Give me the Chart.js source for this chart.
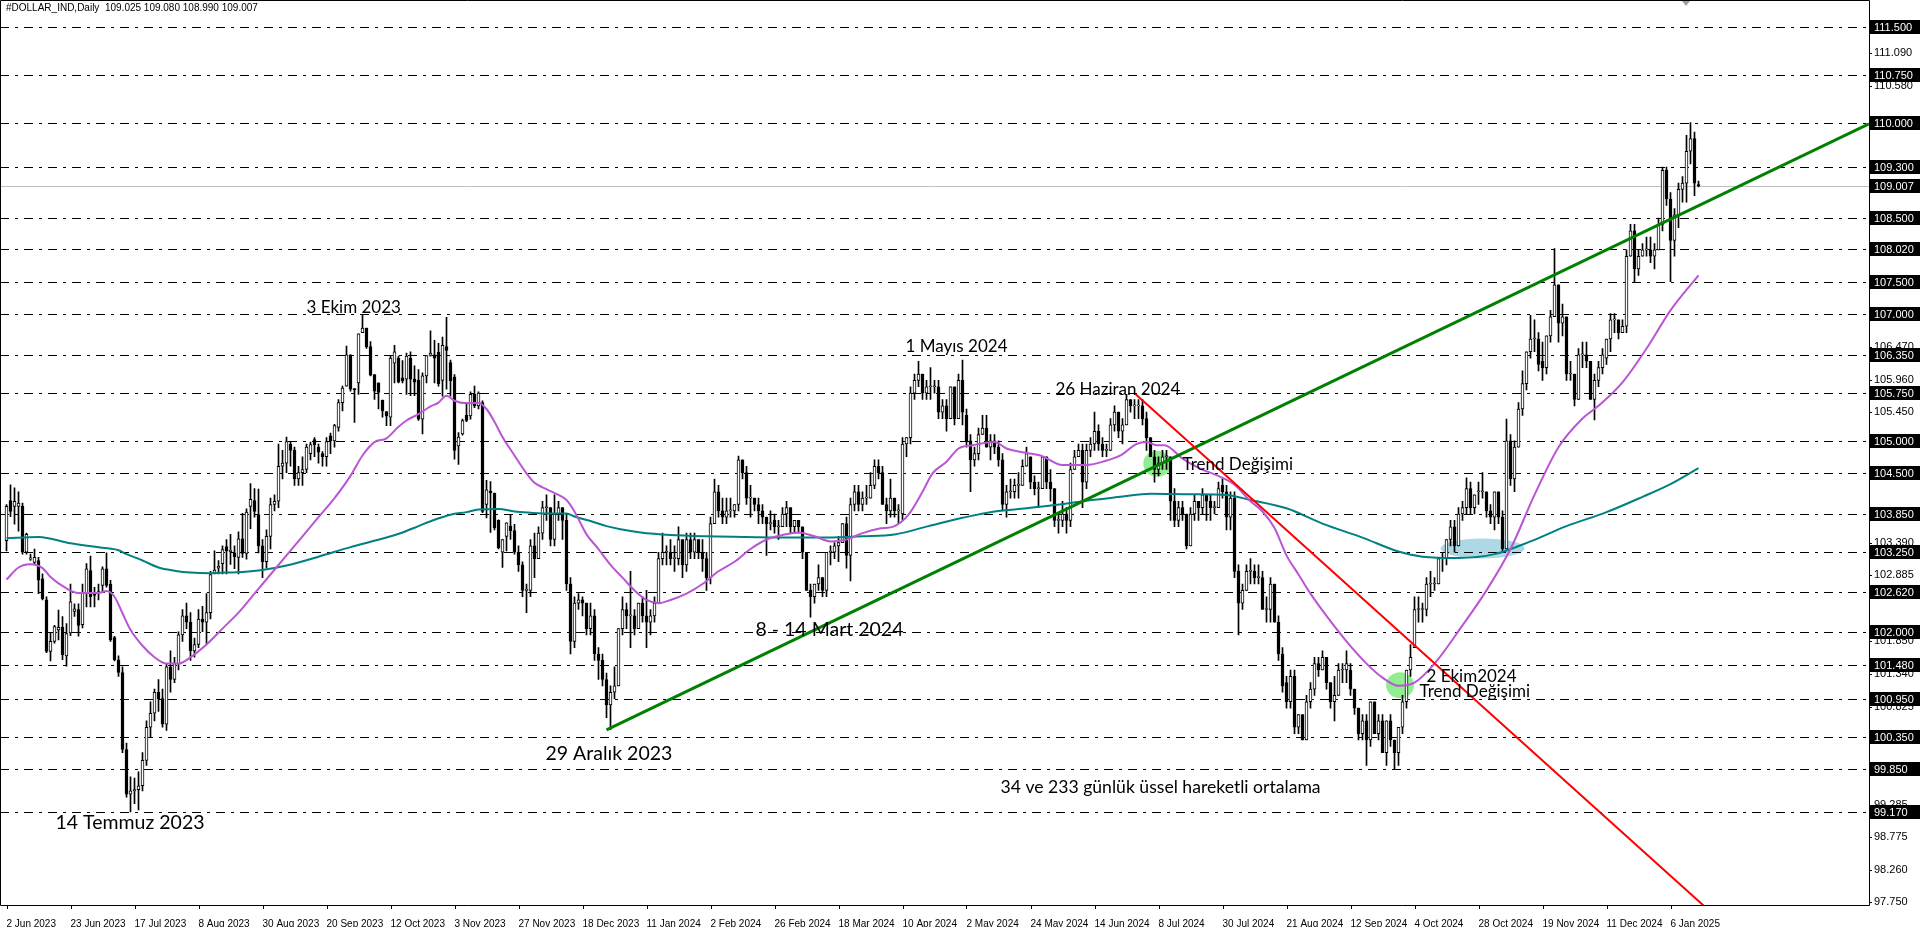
<!DOCTYPE html>
<html><head><meta charset="utf-8">
<script src="https://cdn.jsdelivr.net/npm/chart.js@4.4.1/dist/chart.umd.min.js"></script>
<style>html,body{margin:0;padding:0;background:#fff;overflow:hidden}#wrap{width:1920px;height:927px;position:relative}</style>
</head><body><div id="wrap"><canvas id="c" width="1920" height="927"></canvas></div>
<script>
const opens=[103.43,104.06,103.97,103.97,103.97,103.25,103.14,103.09,103.12,102.83,102.50,101.69,101.85,102.03,102.07,101.62,101.98,102.32,102.35,102.11,102.60,102.96,102.60,102.61,102.73,102.99,102.75,101.91,101.56,101.36,100.15,99.45,99.50,99.52,99.58,99.98,100.50,100.72,101.05,100.95,100.55,101.45,101.25,101.50,101.95,102.25,102.15,101.70,101.80,102.20,102.15,102.30,102.92,103.00,103.07,103.34,103.26,103.24,103.17,103.46,103.23,103.97,104.06,103.84,103.35,103.10,103.50,104.00,104.05,104.60,104.65,104.95,104.85,104.40,104.50,104.55,104.80,105.02,104.90,104.80,104.75,105.08,105.00,105.21,105.60,105.86,106.35,105.82,105.91,106.70,106.77,106.48,106.04,105.91,105.64,105.46,105.37,106.22,106.30,105.99,105.97,106.30,105.97,105.95,105.34,106.02,106.34,106.35,106.39,105.95,106.48,106.23,106.00,104.92,105.11,105.40,105.39,105.73,105.55,105.60,104.00,104.21,104.18,103.75,103.25,103.50,103.66,103.59,103.25,103.05,102.65,102.65,103.35,103.15,103.55,103.95,103.95,103.45,103.85,103.95,103.75,102.75,101.85,102.45,102.50,102.45,102.05,102.25,101.65,101.55,101.25,100.85,101.05,101.15,102.05,102.35,102.25,102.25,102.05,102.45,102.25,102.15,102.25,102.45,103.15,103.25,103.25,103.15,103.15,103.45,103.05,103.45,103.25,103.45,103.25,103.15,102.85,103.70,104.20,103.90,103.80,103.90,103.90,104.00,104.70,104.50,104.10,104.10,104.00,103.90,103.80,103.70,103.75,103.65,103.65,103.85,103.95,103.65,103.75,103.65,103.25,102.65,102.55,102.75,102.85,102.65,103.25,103.25,103.35,103.40,103.70,103.20,104.00,104.20,104.00,104.10,104.10,104.30,104.60,104.50,104.00,103.90,104.10,103.90,103.85,104.95,105.05,105.75,105.95,106.05,105.75,105.85,105.85,105.85,105.45,105.55,105.35,105.85,105.35,105.95,105.40,105.00,104.70,104.80,105.10,105.20,104.90,105.00,104.90,104.70,104.00,104.20,104.20,104.30,104.30,104.60,104.75,104.35,104.25,104.25,104.75,104.35,104.25,103.75,103.75,103.85,103.75,104.55,104.75,104.85,104.35,104.85,104.95,105.15,104.95,104.85,104.85,105.25,105.45,105.15,105.25,105.65,105.55,105.55,105.55,105.35,105.05,104.75,104.55,104.65,104.75,104.75,104.05,103.75,103.95,103.85,103.35,103.85,104.05,103.95,104.15,104.05,103.95,103.95,104.30,104.20,103.80,104.10,102.95,102.45,102.65,102.95,102.95,102.85,102.85,102.35,102.35,102.75,102.15,101.65,101.20,100.90,101.30,100.50,100.70,100.30,100.90,101.10,101.50,101.40,101.60,101.20,100.90,101.00,101.40,101.40,101.40,101.10,100.80,100.40,100.60,100.30,100.90,100.40,100.60,100.10,100.60,100.30,100.10,100.50,100.90,101.40,101.75,102.35,102.35,102.35,102.75,102.75,102.75,103.15,103.15,103.45,103.65,103.35,103.85,103.95,104.25,103.95,104.20,104.20,104.20,103.90,103.80,104.20,103.80,103.30,105.00,104.40,104.90,105.50,105.90,106.40,106.60,106.60,106.25,106.15,106.65,106.95,107.45,106.85,106.95,106.05,106.05,105.65,106.35,106.35,106.25,105.65,105.95,106.15,106.30,106.60,106.90,106.90,106.70,106.80,107.90,108.30,107.70,107.90,108.00,108.00,107.90,108.00,108.40,109.25,108.80,108.15,108.55,108.95,109.05,109.55,109.75,109.025];
const highs=[104.00,104.31,104.26,104.20,104.02,103.55,103.22,103.30,103.17,102.91,102.55,101.98,102.10,102.34,102.24,102.13,102.75,102.44,102.44,102.75,103.07,103.19,102.70,102.75,103.02,103.24,102.81,101.93,101.62,101.45,100.25,99.72,99.70,99.80,100.10,100.60,100.90,101.10,101.25,101.10,101.50,101.70,101.60,102.00,102.35,102.45,102.30,101.90,102.35,102.40,102.60,102.95,103.27,103.12,103.35,103.45,103.53,103.35,103.57,103.86,103.93,104.33,104.25,104.24,103.45,103.60,104.10,104.15,104.95,104.85,105.06,104.98,104.90,104.60,104.75,104.95,104.98,105.05,104.95,104.83,105.05,105.12,105.26,105.65,105.86,106.49,106.35,105.82,106.68,106.97,106.77,106.56,106.04,105.91,105.64,105.46,106.33,106.50,106.33,106.26,106.38,106.40,106.18,106.12,106.07,106.34,106.73,106.58,106.53,106.63,106.94,106.27,106.04,105.13,105.34,105.60,105.77,105.86,105.77,105.63,104.38,104.36,104.18,103.76,103.45,103.71,103.83,103.69,103.35,103.10,102.75,103.45,103.55,103.65,104.05,104.15,103.95,104.15,104.05,103.95,103.85,102.85,102.55,102.60,102.55,102.45,102.45,102.35,101.75,101.65,101.35,101.15,101.45,102.05,102.55,102.45,102.95,102.35,102.45,102.55,102.65,102.35,102.55,103.25,103.55,103.35,103.45,103.35,103.65,103.45,103.55,103.55,103.55,103.45,103.45,103.25,103.80,104.40,104.30,104.10,104.10,104.10,104.00,104.76,104.70,104.60,104.30,104.10,104.10,104.00,103.80,103.90,103.85,103.75,103.95,104.05,103.95,103.75,103.75,103.65,103.25,102.75,102.75,103.05,102.85,103.25,103.35,103.40,103.50,103.70,103.80,104.10,104.30,104.30,104.20,104.30,104.50,104.70,104.70,104.60,104.10,104.40,104.10,104.00,105.05,105.05,105.85,106.05,106.25,106.05,105.95,106.15,105.95,105.95,105.65,105.65,105.85,105.85,106.05,106.27,105.50,105.10,104.90,105.20,105.40,105.40,105.10,105.10,105.00,104.80,104.30,104.40,104.40,104.50,104.70,104.90,104.75,104.45,104.35,104.75,104.75,104.55,104.25,103.85,104.05,103.95,104.65,104.85,104.95,104.95,104.95,105.05,105.45,105.25,105.05,104.95,105.35,105.55,105.45,105.35,105.73,105.65,105.65,105.65,105.65,105.45,105.05,104.85,104.75,104.85,104.85,104.75,104.25,104.05,104.05,103.85,103.95,104.15,104.05,104.25,104.15,104.15,104.05,104.35,104.40,104.30,104.20,104.20,103.05,102.75,103.05,103.15,103.05,103.05,102.95,102.55,102.85,102.75,102.25,101.75,101.30,101.40,101.40,100.70,100.70,101.00,101.20,101.60,101.60,101.70,101.60,101.20,101.30,101.50,101.50,101.70,101.50,101.10,100.80,100.70,100.70,100.90,100.90,100.70,100.70,100.60,100.70,100.30,100.50,101.00,101.40,101.80,102.55,102.55,102.45,102.85,102.95,102.85,103.15,103.25,103.45,103.75,103.75,103.95,104.05,104.42,104.35,104.15,104.35,104.50,104.20,104.00,104.20,104.20,103.90,105.34,105.10,105.00,105.60,106.10,106.40,106.97,106.90,106.70,106.55,106.65,107.05,108.02,107.45,107.15,106.95,106.25,106.05,106.45,106.55,106.55,106.25,106.05,106.25,106.45,106.60,107.00,107.00,106.90,106.90,108.00,108.40,108.40,108.00,108.10,108.20,108.20,108.10,108.50,109.30,109.30,108.90,108.65,109.05,109.15,109.80,110.00,109.85,109.08];
const lows=[103.27,103.81,103.69,103.58,103.22,103.22,103.12,103.06,102.60,102.50,101.67,101.54,101.82,101.87,101.56,101.46,101.94,102.24,101.93,102.06,102.39,102.39,102.39,102.50,102.62,102.70,101.85,101.54,101.30,100.10,99.40,99.17,99.30,99.20,99.50,99.90,100.35,100.60,100.75,100.50,100.45,101.05,101.20,101.40,101.85,102.05,101.55,101.60,101.75,102.00,101.80,102.20,102.91,102.91,102.91,102.91,103.06,102.99,102.91,103.17,103.14,103.62,103.80,103.24,102.85,103.00,103.30,103.90,103.95,104.40,104.50,104.60,104.30,104.30,104.30,104.50,104.70,104.75,104.65,104.60,104.60,104.80,104.90,105.15,105.47,105.86,105.78,105.29,105.73,106.70,106.45,106.02,105.65,105.50,105.37,105.24,105.24,105.91,105.91,105.91,105.73,105.71,105.71,105.32,105.11,105.91,106.33,105.91,105.86,105.70,105.81,105.70,104.71,104.63,105.09,105.30,105.34,105.52,105.50,103.87,103.79,103.56,103.60,103.30,103.01,103.27,103.45,103.22,102.95,102.55,102.30,102.55,102.85,103.15,103.45,103.75,103.35,103.35,103.75,103.45,102.65,101.65,101.75,102.35,102.25,101.95,101.95,101.55,101.25,101.15,100.65,100.46,100.95,101.15,101.95,102.05,101.75,101.95,102.05,102.15,101.75,101.95,102.15,102.45,103.05,103.05,103.05,102.95,103.05,102.85,102.95,103.15,103.15,103.15,102.95,102.65,102.75,103.70,103.80,103.70,103.70,103.80,103.80,103.90,104.40,104.00,103.80,103.90,103.70,103.70,103.20,103.60,103.55,103.45,103.65,103.65,103.55,103.55,103.55,103.15,102.65,102.23,102.45,102.65,102.55,102.55,103.05,103.15,103.10,103.40,103.00,102.80,103.90,103.90,103.90,104.00,104.10,104.25,104.40,104.00,103.70,103.80,103.80,103.70,103.75,104.75,104.95,105.65,105.85,105.65,105.65,105.65,105.75,105.35,105.35,105.15,105.35,105.25,105.35,105.25,104.90,104.20,104.60,104.70,105.10,104.90,104.70,104.80,104.60,103.90,103.80,104.10,104.10,104.10,104.30,104.60,104.25,104.15,103.95,104.25,104.25,104.05,103.65,103.55,103.65,103.55,103.65,104.55,104.75,103.95,104.25,104.75,104.85,104.85,104.75,104.75,104.85,105.15,105.05,104.95,105.25,105.45,105.35,105.35,105.25,104.85,104.75,104.35,104.45,104.55,104.55,103.75,103.65,103.65,103.75,103.30,103.35,103.75,103.75,103.85,103.75,103.75,103.85,103.95,104.10,103.60,103.60,102.85,101.95,102.35,102.65,102.75,102.75,102.75,102.35,102.15,102.15,102.15,101.55,101.05,100.80,100.80,100.40,100.40,100.30,100.30,100.80,101.00,101.30,101.40,101.10,100.80,100.60,101.00,101.20,101.20,101.00,100.70,100.30,100.30,99.90,100.20,100.40,100.30,100.10,99.90,100.20,99.85,99.90,100.40,100.80,101.30,101.75,102.15,102.15,102.25,102.55,102.65,102.75,102.95,103.05,103.35,103.25,103.35,103.75,103.85,103.85,103.85,104.00,104.10,103.80,103.70,103.60,103.70,103.27,103.30,104.30,104.20,104.90,105.40,105.80,106.30,106.40,106.10,105.95,106.05,106.55,106.95,106.55,106.65,105.95,105.95,105.55,105.65,106.15,106.15,105.65,105.33,105.85,106.05,106.20,106.40,106.70,106.60,106.70,106.70,107.90,107.50,107.60,107.90,107.90,107.80,107.70,108.00,108.30,108.70,107.50,107.90,108.35,108.75,108.75,109.35,108.85,108.99];
const closes=[103.97,103.89,104.05,104.02,103.25,103.53,103.16,103.17,102.81,102.52,101.69,101.85,102.08,102.07,101.64,101.97,102.47,102.36,102.10,102.61,102.99,102.55,102.57,102.63,102.99,102.73,101.87,101.56,101.36,100.15,99.45,99.50,99.52,99.58,99.98,100.50,100.72,101.05,100.95,100.55,101.45,101.25,101.50,101.95,102.25,102.15,101.70,101.80,102.20,102.15,102.30,102.90,102.97,103.03,103.29,103.27,103.28,103.18,103.46,103.23,103.88,104.08,103.89,103.35,103.10,103.50,104.00,104.05,104.60,104.65,104.99,104.85,104.40,104.50,104.55,104.90,104.94,104.94,104.82,104.75,104.99,105.00,105.24,105.60,105.83,106.35,105.81,105.80,106.68,106.77,106.48,106.03,105.78,105.76,105.47,105.39,106.30,106.40,105.92,105.94,106.33,105.97,105.92,105.34,106.02,106.34,106.38,106.30,105.90,106.50,106.42,105.94,104.85,105.06,105.32,105.32,105.73,105.55,105.75,103.89,104.23,104.18,103.63,103.32,103.45,103.71,103.59,103.25,103.05,102.65,102.65,103.35,103.15,103.55,103.95,103.95,103.45,103.85,103.95,103.75,102.75,101.85,102.45,102.50,102.45,102.05,102.25,101.65,101.55,101.25,100.85,101.05,101.15,102.05,102.35,102.25,102.25,102.05,102.45,102.25,102.15,102.25,102.45,103.15,103.25,103.25,103.15,103.15,103.45,103.05,103.45,103.25,103.45,103.25,103.15,102.85,103.70,104.20,103.90,103.80,103.90,103.90,104.00,104.70,104.50,104.10,104.10,104.00,103.90,103.80,103.70,103.70,103.65,103.65,103.85,103.95,103.65,103.75,103.65,103.25,102.65,102.55,102.75,102.85,102.65,103.25,103.25,103.35,103.40,103.70,103.20,104.00,104.20,104.00,104.10,104.10,104.30,104.60,104.50,104.00,103.90,104.10,103.90,103.90,104.95,105.05,105.75,105.95,106.05,105.75,105.85,105.85,105.85,105.45,105.55,105.35,105.85,105.35,105.95,105.45,105.00,104.70,104.80,105.10,105.20,104.90,105.00,104.90,104.70,104.00,104.20,104.20,104.30,104.30,104.60,104.80,104.35,104.25,104.25,104.75,104.35,104.25,103.75,103.75,103.85,103.75,104.55,104.75,104.85,104.35,104.85,104.95,105.15,104.95,104.85,104.85,105.25,105.45,105.15,105.25,105.65,105.55,105.55,105.55,105.35,105.05,104.75,104.55,104.65,104.75,104.75,104.05,103.75,103.95,103.85,103.35,103.85,104.05,103.95,104.15,104.05,103.95,103.95,104.25,104.20,103.80,104.10,102.95,102.45,102.65,102.95,102.95,102.85,102.85,102.35,102.35,102.75,102.15,101.65,101.15,100.90,101.30,100.50,100.70,100.30,100.90,101.10,101.50,101.40,101.60,101.20,100.90,101.00,101.40,101.40,101.50,101.10,100.80,100.40,100.60,100.30,100.90,100.40,100.60,100.10,100.60,100.30,100.10,100.50,100.90,101.40,101.60,102.35,102.35,102.35,102.75,102.75,102.75,103.15,103.15,103.45,103.65,103.35,103.85,103.95,104.25,103.95,104.15,104.20,104.20,103.90,103.80,104.20,103.80,103.30,105.00,104.40,104.90,105.50,105.90,106.40,106.60,106.60,106.20,106.15,106.65,106.95,107.45,106.85,106.95,106.05,106.05,105.65,106.35,106.35,106.25,105.65,105.95,106.15,106.35,106.60,106.90,106.90,106.70,106.80,107.90,108.30,107.70,107.90,108.00,108.00,107.90,108.00,108.40,109.25,108.80,108.15,108.55,108.95,109.05,109.55,109.75,109.05,109.007];

const xTickLabels=["2 Jun 2023","23 Jun 2023","17 Jul 2023","8 Aug 2023","30 Aug 2023","20 Sep 2023","12 Oct 2023","3 Nov 2023","27 Nov 2023","18 Dec 2023","11 Jan 2024","2 Feb 2024","26 Feb 2024","18 Mar 2024","10 Apr 2024","2 May 2024","24 May 2024","14 Jun 2024","8 Jul 2024","30 Jul 2024","21 Aug 2024","12 Sep 2024","4 Oct 2024","28 Oct 2024","19 Nov 2024","11 Dec 2024","6 Jan 2025"];
const xTickEvery=16;

const ema34Idx=[0,3,6,9,11,15,18,23,25,27,29,31,34,37,40,43,46,50,54,58,62,66,70,74,78,82,86,89,92,95,98,100,103,106,108,110,112,115,118,120,122,124,127,130,132,134,136,138,140,141.5,143,145,148,151,154,157,160,163,166,170,174,178,182,186,190,194,198,202,206,210,214,218,222,225.5,229,231.5,235,238,241.5,247,250,254,258.5,264,270,275,278.5,282.5,285,287.5,289.5,294,298.5,302.5,307,311,314,317,320,323,326,330,335,340,344,348,352,357,364,370,376,382,388,394,398,404,410,416,423];
const ema34Val=[102.82,103.01,103.06,103.00,102.86,102.68,102.61,102.61,102.64,102.55,102.29,102.03,101.78,101.60,101.50,101.50,101.60,101.80,102.05,102.30,102.60,102.90,103.20,103.50,103.80,104.10,104.45,104.77,104.98,105.04,105.22,105.32,105.42,105.54,105.60,105.71,105.63,105.59,105.60,105.50,105.30,105.06,104.77,104.49,104.34,104.27,104.21,104.15,104.07,103.94,103.77,103.53,103.30,103.05,102.85,102.65,102.50,102.45,102.50,102.60,102.75,102.95,103.10,103.30,103.45,103.52,103.56,103.50,103.42,103.45,103.55,103.62,103.66,103.84,104.20,104.49,104.67,104.88,104.93,104.98,104.88,104.82,104.77,104.62,104.62,104.69,104.77,104.95,104.98,104.93,104.93,104.72,104.56,104.46,104.31,104.05,103.89,103.63,103.20,102.90,102.60,102.25,101.85,101.50,101.28,101.15,101.20,101.50,102.10,102.65,103.30,104.15,104.90,105.35,105.55,105.92,106.45,107.05,107.60];
const ema233Idx=[0,8,16,24,28,30,34,38,42,46,51,55,59,64,70,78,86,95,99,103,107,111,115,118,123,127,131,134,140,142,146,150,153.5,158.5,166,175,185,195,205,214,222,230.5,239,247,255,262,270,278.5,286,296,305,311,320,329,339,348,354,363,372,381,390,400,409,416,423];
const ema233Val=[103.47,103.49,103.39,103.32,103.28,103.22,103.12,103.01,102.96,102.93,102.92,102.93,102.94,102.97,103.04,103.18,103.33,103.48,103.56,103.66,103.76,103.84,103.88,103.92,103.93,103.89,103.87,103.86,103.86,103.81,103.74,103.66,103.61,103.56,103.52,103.50,103.49,103.48,103.48,103.50,103.53,103.66,103.79,103.89,103.94,103.99,104.06,104.12,104.17,104.16,104.15,104.07,103.94,103.70,103.48,103.26,103.18,103.16,103.22,103.42,103.66,103.88,104.12,104.32,104.57];

const hLevels=[111.5,110.75,110.0,109.3,108.5,108.02,107.5,107.0,106.35,105.75,105.0,104.5,103.85,103.25,102.62,102.0,101.48,100.95,100.35,99.85,99.17];
const currentPrice=109.007;
const yPlainTicks=[111.090,110.580,106.470,105.960,105.450,103.390,102.885,101.850,101.340,100.825,99.285,98.775,98.260,97.750];
const titleText="#DOLLAR_IND,Daily  109.025 109.080 108.990 109.007";
const greenTrend=[[150,100.46],[465.625,109.98]];
const redTrend=[[282.3,105.73],[426,97.6]];
const notes=[
 ["3 Ekim 2023",75,107.09,17],["1 Mayıs 2024",224.75,106.48,17],["26 Haziran 2024",262.25,105.81,17],
 ["Trend Değişimi",294,104.63,17],["8 - 14 Mart 2024",187.25,102.04,19.5],["29 Aralık 2023",134.75,100.08,19.5],
 ["14 Temmuz 2023",12.25,99.0,19.5],["2 Ekim2024",355,101.29,17],["Trend Değişimi",353.25,101.06,17],
 ["34 ve 233 günlük üssel hareketli ortalama",248.5,99.55,17.6]
];
const blobs=[
 {x:287.7,y:104.64,rx:14,ry:13,c:'#90EE90'},
 {x:348.4,y:101.16,rx:14,ry:13,c:'#90EE90'},
 {x:369,y:103.31,rx:42,ry:10,c:'#ADD8E6'}
];

const wickData=closes.map((c,i)=>({x:i,y:[lows[i],highs[i]]}));
const bodyData=closes.map((c,i)=>({x:i,y:[Math.min(opens[i],c),Math.max(opens[i],c)]}));
const bodyColors=closes.map((c,i)=>c>=opens[i]?'#FFFFFF':'#000000');
const ema34=ema34Idx.map((x,k)=>({x,y:ema34Val[k]}));
const ema233=ema233Idx.map((x,k)=>({x,y:ema233Val[k]}));
const toPts=a=>a.map(p=>({x:p[0],y:p[1]}));

const mt={
 id:'mt',
 beforeDatasetsDraw(chart){
  const {ctx,chartArea:a,scales:{x,y}}=chart;
  ctx.save();
  ctx.beginPath();ctx.rect(a.left,a.top,a.right-a.left,a.bottom-a.top);ctx.clip();
  blobs.forEach(b=>{ctx.fillStyle=b.c;ctx.beginPath();ctx.ellipse(x.getPixelForValue(b.x),y.getPixelForValue(b.y),b.rx,b.ry,0,0,Math.PI*2);ctx.fill();});
  ctx.strokeStyle='#000';ctx.lineWidth=1;ctx.setLineDash([9,6,3,6]);
  hLevels.forEach(v=>{const py=Math.round(y.getPixelForValue(v))+0.5;ctx.beginPath();ctx.moveTo(a.left,py);ctx.lineTo(a.right,py);ctx.stroke();});
  ctx.setLineDash([]);
  ctx.strokeStyle='#C0C0C0';
  const cp=Math.round(y.getPixelForValue(currentPrice))+0.5;
  ctx.beginPath();ctx.moveTo(a.left,cp);ctx.lineTo(a.right,cp);ctx.stroke();
  ctx.restore();
 },
 afterDraw(chart){
  const {ctx,chartArea:a,scales:{x,y}}=chart;
  ctx.save();
  ctx.fillStyle='#000';ctx.textBaseline='middle';ctx.textAlign='left';
  notes.forEach(n=>{ctx.font=n[3]+'px Lato';ctx.fillText(n[0],x.getPixelForValue(n[1]),y.getPixelForValue(n[2]));});
  ctx.font='10px "Liberation Sans"';
  ctx.fillText(titleText,6,8);
  ctx.strokeStyle='#000';ctx.lineWidth=1;
  ctx.beginPath();
  ctx.moveTo(0.5,0.5);ctx.lineTo(a.right+0.5,0.5);ctx.lineTo(a.right+0.5,a.bottom+0.5);ctx.lineTo(0.5,a.bottom+0.5);ctx.closePath();ctx.stroke();
  xTickLabels.forEach((t,k)=>{const px=Math.round(x.getPixelForValue(k*xTickEvery))+0.5;ctx.beginPath();ctx.moveTo(px,a.bottom);ctx.lineTo(px,a.bottom+4);ctx.stroke();});
  yPlainTicks.forEach(v=>{const py=Math.round(y.getPixelForValue(v))+0.5;ctx.beginPath();ctx.moveTo(a.right,py);ctx.lineTo(a.right+3,py);ctx.stroke();});
  ctx.font='11px "Liberation Sans"';
  [...hLevels,currentPrice].forEach(v=>{
   const py=Math.round(y.getPixelForValue(v));
   ctx.fillStyle='#000';ctx.fillRect(a.right+1,py-7,51,14);
   ctx.fillStyle='#fff';ctx.fillText(v.toFixed(3),a.right+5,py+0.5);
  });
  ctx.fillStyle='#A0A0A0';ctx.beginPath();ctx.moveTo(1682,1);ctx.lineTo(1690,1);ctx.lineTo(1686,6);ctx.closePath();ctx.fill();
  ctx.restore();
 }
};

new Chart(document.getElementById('c'),{
 type:'bar',
 data:{datasets:[
  {type:'bar',data:wickData,backgroundColor:'#000',borderWidth:0,barThickness:1,grouped:false,order:5},
  {type:'bar',data:bodyData,backgroundColor:bodyColors,borderColor:'#000',borderWidth:1,borderSkipped:false,barThickness:3,minBarLength:1,grouped:false,order:4},
  {type:'line',data:ema233,borderColor:'#008080',borderWidth:2,pointRadius:0,cubicInterpolationMode:'monotone',order:3},
  {type:'line',data:ema34,borderColor:'#BA55D3',borderWidth:2,pointRadius:0,cubicInterpolationMode:'monotone',order:2},
  {type:'line',data:toPts(greenTrend),borderColor:'#008000',borderWidth:3,pointRadius:0,order:1},
  {type:'line',data:toPts(redTrend),borderColor:'#FF0000',borderWidth:2,pointRadius:0,order:0}
 ]},
 options:{
  responsive:false,animation:false,devicePixelRatio:1,events:[],
  layout:{padding:{top:1,left:0,right:0,bottom:0}},
  plugins:{legend:{display:false},tooltip:{enabled:false}},
  scales:{
   x:{type:'linear',min:-1.625,max:465.625,offset:false,grid:{display:false},border:{display:false},
      afterBuildTicks:s=>{s.ticks=xTickLabels.map((t,k)=>({value:k*xTickEvery}));},
      afterFit:s=>{s.height=22;},
      ticks:{autoSkip:false,maxRotation:0,minRotation:0,align:'start',padding:5,color:'#000',font:{family:'Liberation Sans',size:10},
        callback:v=>xTickLabels[Math.round(v/xTickEvery)]||''}},
   y:{type:'linear',position:'right',min:97.707,max:111.744,grid:{display:false,drawTicks:false},border:{display:false},
      afterBuildTicks:s=>{s.ticks=yPlainTicks.map(v=>({value:v}));},
      afterFit:s=>{s.width=51;},
      ticks:{autoSkip:false,padding:5,color:'#000',font:{family:'Liberation Sans',size:11},callback:v=>v.toFixed(3)}}
  }
 },
 plugins:[mt]
});
</script></body></html>
